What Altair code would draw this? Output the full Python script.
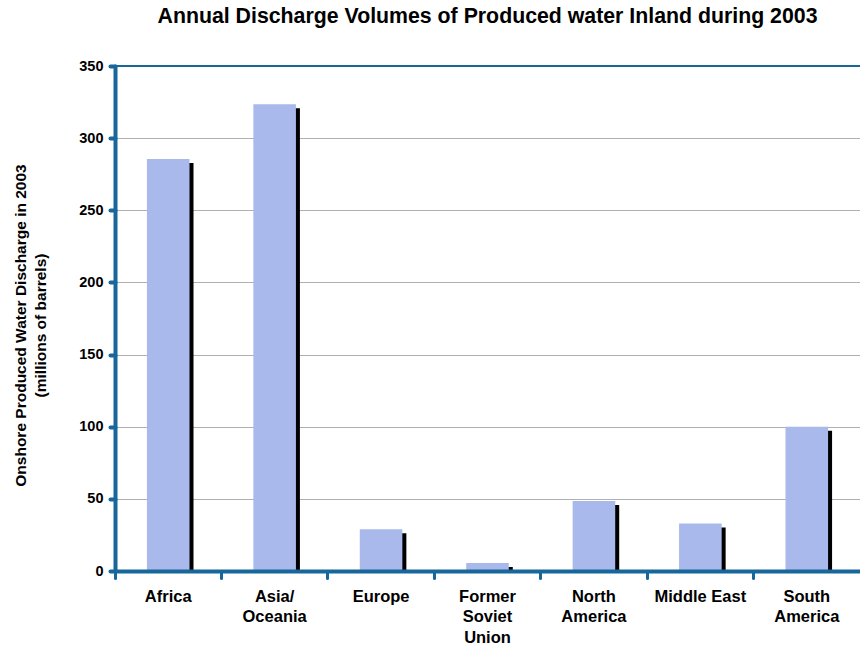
import altair as alt
import pandas as pd

categories = ["Africa", "Asia/|Oceania", "Europe", "Former|Soviet|Union",
              "North|America", "Middle East", "South|America"]
values = [285.5, 323.5, 29, 5.5, 48.5, 33, 100]
y_ticks = [0, 50, 100, 150, 200, 250, 300, 350]

df = pd.DataFrame({"region": categories, "value": values})

BLUE = "#17679a"
FONT = "Liberation Sans"

x_enc = alt.X("region:N", sort=categories,
              scale=alt.Scale(paddingInner=0, paddingOuter=0),
              axis=alt.Axis(title=None, labelExpr="split(datum.value, '|')",
                            labelAngle=0, labelFont=FONT, labelFontSize=16.5,
                            labelFontWeight="bold", labelColor="#000000",
                            labelLineHeight=20.5, labelPadding=10,
                            labelBaseline="top",
                            domainColor=BLUE, domainWidth=4, domainCap="round",
                            tickColor=BLUE, tickWidth=3, tickSize=7, tickCap="round",
                            bandPosition=0, grid=False, zindex=1))

y_scale = alt.Scale(domain=[0, 350], nice=False)
y_enc = alt.Y("value:Q", scale=y_scale,
              axis=alt.Axis(values=y_ticks,
                            title=["Onshore Produced Water Discharge in 2003",
                                   "(millions of barrels)"],
                            titleFont=FONT, titleFontSize=15.5, titleFontWeight="bold",
                            titleColor="#000000", titleAngle=270,
                            titleX=-95, titleY=259, titleAlign="center",
                            titleBaseline="middle", titleLineHeight=20,
                            labelFont=FONT, labelFontSize=14.5, labelFontWeight="bold",
                            labelColor="#000000", labelPadding=7,
                            domainColor=BLUE, domainWidth=4, domainCap="round",
                            tickColor=BLUE, tickWidth=4, tickSize=5, tickCap="round",
                            grid=True, gridColor="#b0b0b0", gridWidth=1))

base = alt.Chart(df)

shadow = base.mark_bar(color="#000000", width=alt.RelativeBandSize(0.4),
                       xOffset=4, x2Offset=4, yOffset=4).encode(
    x=x_enc, y=y_enc, y2=alt.datum(0))
bars = base.mark_bar(color="#a9b9ec", width=alt.RelativeBandSize(0.4)).encode(
    x=alt.X("region:N", sort=categories), y=alt.Y("value:Q"))
top_line = alt.Chart(pd.DataFrame({"top": [350]})).mark_rule(
    color=BLUE, strokeWidth=2).encode(y=alt.Y("top:Q", scale=y_scale))

chart = alt.layer(shadow, bars, top_line).properties(
    width=745, height=505,
    autosize=alt.AutoSizeParams(type="none"),
    padding={"left": 115, "top": 66, "right": 0, "bottom": 77},
    title=alt.TitleParams("Annual Discharge Volumes of Produced water Inland during 2003",
                          font=FONT, fontSize=21.3, fontWeight="bold",
                          color="#000000", anchor="middle", offset=31),
    background="#ffffff",
).configure_view(stroke=None)

chart.save("out.html", embed_options={"renderer": "svg", "actions": False})
